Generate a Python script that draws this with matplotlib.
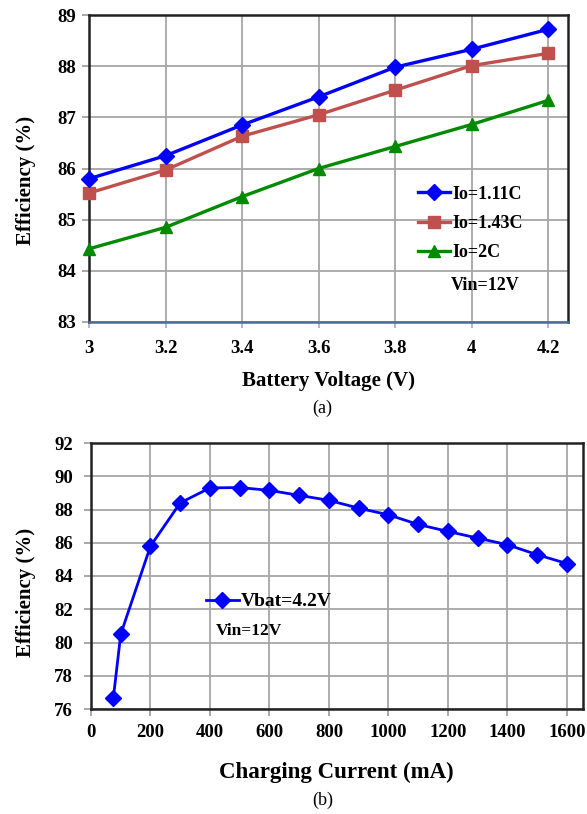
import matplotlib
matplotlib.use("Agg")
import matplotlib.pyplot as plt

# (a) efficiency vs battery voltage
vbat = [3.0, 3.2, 3.4, 3.6, 3.8, 4.0, 4.2]
eff_111c = [85.80, 86.25, 86.85, 87.40, 87.98, 88.33, 88.72]
eff_143c = [85.52, 85.97, 86.63, 87.05, 87.53, 88.01, 88.25]
eff_2c = [84.43, 84.85, 85.45, 86.00, 86.43, 86.86, 87.33]
labels_a = ["Io=1.11C", "Io=1.43C", "Io=2C"]
xticks_a = [3, 3.2, 3.4, 3.6, 3.8, 4, 4.2]
xticklabels_a = ["3", "3.2", "3.4", "3.6", "3.8", "4", "4.2"]

# (b) efficiency vs charging current
current = [75, 100, 200, 300, 400, 500, 600, 700, 800, 900, 1000,
           1100, 1200, 1300, 1400, 1500, 1600]
eff_b = [76.65, 80.5, 85.8, 88.4, 89.3, 89.32, 89.15, 88.85, 88.55,
         88.08, 87.68, 87.1, 86.68, 86.28, 85.88, 85.28, 84.75]
label_b = "Vbat=4.2V"

plt.rcParams['font.family'] = ['Liberation Serif', 'DejaVu Serif']
plt.rcParams['font.weight'] = 'bold'

fig = plt.figure(figsize=(5.87, 8.14), dpi=100)
W, H = 587.0, 814.0

grid_col = "#a6a6a6"

# ---------- top chart ----------
ax1 = fig.add_axes([89 / W, 1 - 322 / H, 479 / W, 307 / H])
ax1.plot(vbat, eff_111c, color="#0000ff", lw=2.4, marker="D", ms=8,
         label=labels_a[0], zorder=5, clip_on=False)
ax1.plot(vbat, eff_143c, color="#c0504d", lw=2.4, marker="s", ms=8,
         label=labels_a[1], zorder=4, clip_on=False)
ax1.plot(vbat, eff_2c, color="#008a00", lw=2.4, marker="^", ms=9,
         label=labels_a[2], zorder=3, clip_on=False)
ax1.set_xlim(3, 4.252)
ax1.set_ylim(83, 89)
ax1.set_xticks(xticks_a)
ax1.set_xticklabels(xticklabels_a)
ax1.set_yticks(range(83, 90))
ax1.grid(True, color=grid_col, lw=1.3)
ax1.set_axisbelow(True)
for s in ["top", "right", "left"]:
    ax1.spines[s].set_color("#222222")
    ax1.spines[s].set_linewidth(1.8)
ax1.spines["bottom"].set_color("#4f6d94")
ax1.spines["bottom"].set_linewidth(1.8)
ax1.tick_params(axis="y", length=5, width=1.2, color="#999999", pad=4,
                labelsize=13.5)
ax1.tick_params(axis="x", length=4, width=1.2, color="#8fb0dd", pad=9,
                labelsize=13.5)
for t in ax1.get_xticklabels() + ax1.get_yticklabels():
    t.set_fontweight("bold")
leg1 = ax1.legend(loc="upper left", bbox_to_anchor=(0.668, 0.473),
                  frameon=False, fontsize=13, handlelength=1.8,
                  handletextpad=0.1, labelspacing=0.68, borderpad=0)
ax1.text(0.755, 0.12, "Vin=12V", transform=ax1.transAxes, fontsize=13,
         fontweight="bold", va="center", ha="left")

fig.text(328 / W, 1 - 381 / H, "Battery Voltage (V)", ha="center",
         va="center", fontsize=15, fontweight="bold")
fig.text(322 / W, 1 - 408 / H, "(a)", ha="center", va="center",
         fontsize=13, fontweight="normal")
fig.text(26 / W, 1 - 180 / H, "Efficiency (%)", ha="center", va="center",
         rotation=90, fontsize=15, fontweight="bold")

# ---------- bottom chart ----------
ax2 = fig.add_axes([91 / W, 1 - 709 / H, 492 / W, 266 / H])
ax2.plot(current, eff_b, color="#0000ff", lw=2.0, marker="D", ms=8,
         label=label_b, zorder=5, clip_on=False)
ax2.set_xlim(0, 1654)
ax2.set_ylim(76, 92)
ax2.set_xticks(range(0, 1601, 200))
ax2.set_yticks(range(76, 93, 2))
ax2.grid(True, color=grid_col, lw=1.3)
ax2.set_axisbelow(True)
for s in ax2.spines.values():
    s.set_color("#222222")
    s.set_linewidth(1.8)
ax2.tick_params(axis="both", length=5, width=1.2, color="#999999",
                labelsize=13.5)
ax2.tick_params(axis="y", pad=8)
ax2.tick_params(axis="x", pad=6)
for t in ax2.get_xticklabels() + ax2.get_yticklabels():
    t.set_fontweight("bold")
ax2.legend(loc="center left", bbox_to_anchor=(0.213, 0.404),
           frameon=False, fontsize=14, handlelength=1.7,
           handletextpad=0.1, borderpad=0)
ax2.text(0.253, 0.294, "Vin=12V", transform=ax2.transAxes, fontsize=12.5,
         fontweight="bold", va="center", ha="left")

fig.text(336 / W, 1 - 772 / H, "Charging Current (mA)", ha="center",
         va="center", fontsize=16.5, fontweight="bold")
fig.text(323 / W, 1 - 800 / H, "(b)", ha="center", va="center",
         fontsize=13, fontweight="normal")
fig.text(26 / W, 1 - 592 / H, "Efficiency (%)", ha="center", va="center",
         rotation=90, fontsize=15, fontweight="bold")

fig.savefig("out.png", dpi=100)
